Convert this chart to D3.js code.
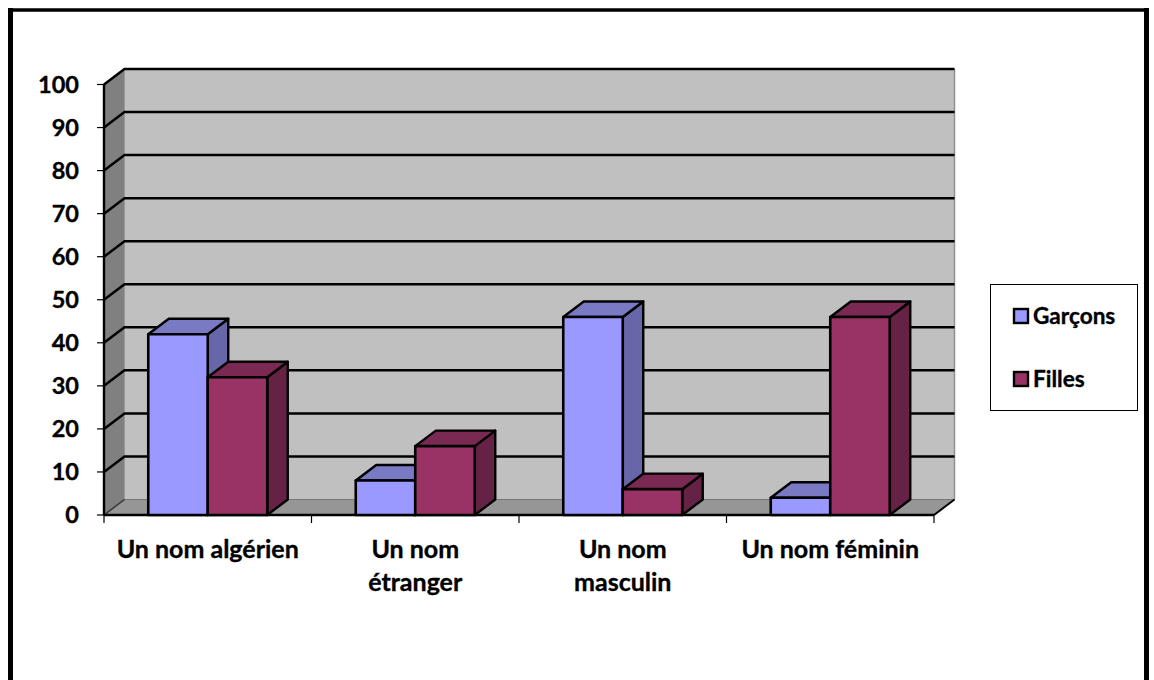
<!DOCTYPE html>
<html><head><meta charset="utf-8">
<style>html,body{margin:0;padding:0;background:#fff}svg{display:block}text{font-family:Lato,Carlito,sans-serif;font-weight:700;fill:#000;stroke:#000;stroke-width:0.35px}</style>
<script src="https://cdn.jsdelivr.net/npm/d3@7"></script></head><body>
<svg id="c" width="1154" height="680"></svg>
<script>
const categories=[["Un nom algérien"],["Un nom","étranger"],["Un nom","masculin"],["Un nom féminin"]];
const garcons=[42,8,46,4];
const filles=[32,16,6,46];
const seriesNames=["Garçons","Filles"];
const ticks=[0,10,20,30,40,50,60,70,80,90,100];
const front=["#9999ff","#993366"],top_=["#7a7ac4","#7a2952"],side=["#6666a8","#662244"];
const svg=d3.select("#c");
const dx=20.5,dy=-15.5;
const x=d3.scaleBand().domain(d3.range(4)).range([104,934]);
const y=d3.scaleLinear().domain([0,100]).range([515,84.5]);
const barW=59.5;
const line=d3.line();
const poly=(pts,fill,stroke,w)=>svg.append("path").attr("d",line(pts)+"Z").attr("fill",fill).attr("stroke",stroke||"none").attr("stroke-width",w||0).attr("stroke-linejoin","round");
const seg=(pts,w,col)=>svg.append("path").attr("d",line(pts)).attr("fill","none").attr("stroke",col||"#000").attr("stroke-width",w);
// frame
seg([[10.5,8],[10.5,682]],5);
seg([[1146.5,8],[1146.5,682]],5);
seg([[8,10],[1149,10]],3.6);
const xL=104,xR=934,y0=y(0),yT=y(100);
// walls
poly([[xL+dx,yT+dy],[xR+dx,yT+dy],[xR+dx,y0+dy],[xL+dx,y0+dy]],"#c0c0c0");
poly([[xL,yT],[xL+dx,yT+dy],[xL+dx,y0+dy],[xL,y0]],"#808080");
poly([[xL,y0],[xL+dx,y0+dy],[xR+dx,y0+dy],[xR,y0]],"#969696");
seg([[xR+dx,yT+dy],[xR+dx,y0+dy]],1.5,"#909090");
seg([[xL+dx,yT+dy],[xL+dx,y0+dy]],1,"#999");
seg([[xL+dx,y0+dy],[xR+dx,y0+dy]],1.2,"#777");
seg([[xL,y0],[xL+dx,y0+dy]],1.5,"#333");
seg([[xR,y0],[xR+dx,y0+dy]],2,"#000");
// gridlines
ticks.filter(t=>t>0).forEach(t=>{const yy=y(t);
 seg([[xL,yy],[xL+dx,yy+dy],[xR+dx,yy+dy]],2.5);});
// axes
seg([[xL,yT],[xL,y0]],2.4);
seg([[xL,y0],[xR,y0]],2.6);
ticks.forEach(t=>{seg([[xL-7,y(t)],[xL,y(t)]],1.2);
 svg.append("text").attr("x",79).attr("y",y(t)).attr("dy","0.36em").attr("text-anchor","end").attr("font-size",23.5).text(t);});
d3.range(5).forEach(i=>{const xx=i<4?x(i):xR;seg([[xx,y0],[xx,y0+8]],1.2);});
// bars
const inset=(x.bandwidth()-2*barW)/2;
categories.forEach((c,i)=>{[garcons[i],filles[i]].forEach((v,s)=>{
 const a=x(i)+inset+s*barW,b=a+barW,t=y(v);
 poly([[b,t],[b+dx,t+dy],[b+dx,y0+dy],[b,y0]],side[s],"#000",2.4);
 poly([[a,t],[a+dx,t+dy],[b+dx,t+dy],[b,t]],top_[s],"#000",2.4);
 poly([[a,t],[b,t],[b,y0],[a,y0]],front[s],"#000",2.6);
});
 const cx=x(i)+x.bandwidth()/2;
 c.forEach((l,j)=>svg.append("text").attr("x",cx).attr("y",558+j*33).attr("text-anchor","middle").attr("font-size",25).text(l));
});
// legend
svg.append("rect").attr("x",990.5).attr("y",284.5).attr("width",147).attr("height",126).attr("fill","#fff").attr("stroke","#000").attr("stroke-width",1);
seriesNames.forEach((n,i)=>{const ly=316+i*63;
 svg.append("rect").attr("x",1014).attr("y",ly-7).attr("width",14).attr("height",14).attr("fill",front[i]).attr("stroke","#000").attr("stroke-width",2.4);
 svg.append("text").attr("x",1033).attr("y",ly).attr("dy","0.36em").attr("font-size",22.6).text(n);});
</script></body></html>
